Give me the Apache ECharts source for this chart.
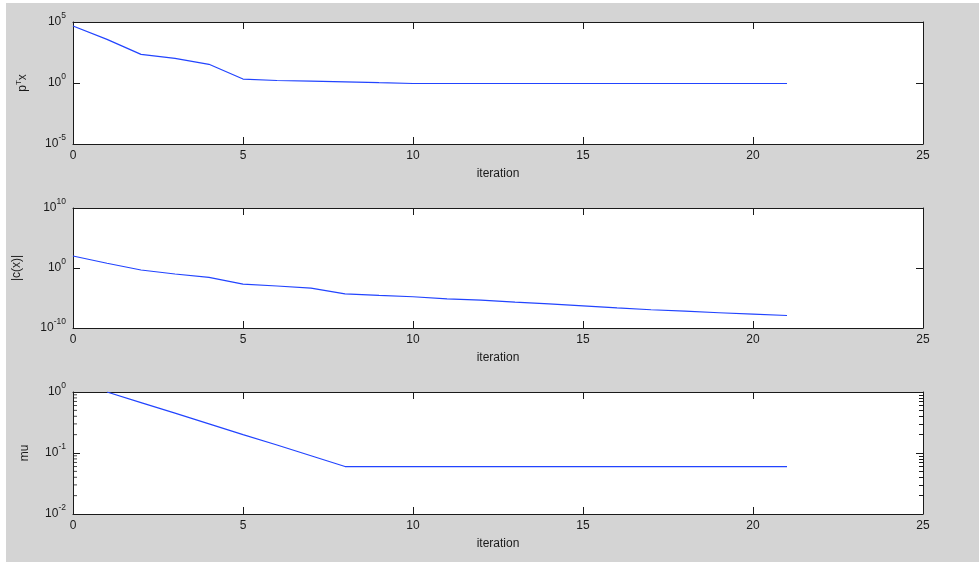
<!DOCTYPE html>
<html>
<head>
<meta charset="utf-8">
<script src="https://cdn.jsdelivr.net/npm/echarts@6/dist/echarts.min.js"></script>
<style>
  html, body { margin: 0; padding: 0; background: #ffffff; }
  #bg { position: absolute; left: 6px; top: 3px; width: 973px; height: 559px; background: #d4d4d4; }
  #main { position: absolute; left: 0; top: 0; width: 979px; height: 562px; }
</style>
</head>
<body>
<div id="bg"></div>
<div id="main"></div>
<script>
// ---- data ----
const iterations = [0, 1, 2, 3, 4, 5, 6, 7, 8, 9, 10, 11, 12, 13, 14, 15, 16, 17, 18, 19, 20, 21];
const pTx = [4.7e4, 3.8e3, 2.2e2, 1.05e2, 34, 2.1, 1.6, 1.45, 1.26, 1.06, 0.91, 0.91, 0.91, 0.91, 0.91, 0.91, 0.91, 0.91, 0.91, 0.91, 0.91, 0.91];
const cNorm = [1e2, 6.2, 0.46, 0.1, 0.028, 2.1e-3, 1e-3, 4.5e-4, 5e-5, 2.7e-5, 1.6e-5, 7.2e-6, 4.4e-6, 2e-6, 1.05e-6, 5e-7, 2.2e-7, 1.1e-7, 6.3e-8, 3.5e-8, 2e-8, 1.2e-8];
const mu = [null, 1.0, 0.67, 0.45, 0.30, 0.20, 0.135, 0.09, 0.06, 0.06, 0.06, 0.06, 0.06, 0.06, 0.06, 0.06, 0.06, 0.06, 0.06, 0.06, 0.06, 0.06];

const xRange = [0, 25];
const xStep = 5;
const yRange1 = [1e-5, 1e5];
const yRange2 = [1e-10, 1e10];
const yRange3 = [1e-2, 1e0];
// minor log ticks of the mu panel (2..9 x each decade)
const muMinorTicks = [0.02, 0.03, 0.04, 0.05, 0.06, 0.07, 0.08, 0.09, 0.2, 0.3, 0.4, 0.5, 0.6, 0.7, 0.8, 0.9];

const yNames = ['{a|p}{t|T}{a|x}', '{a||c(x)|}', '{a|mu}'];
const xName = 'iteration';

// ---- styling ----
const FONT = "'Liberation Sans', Arial, Helvetica, sans-serif";
const INK = '#1a1a1a';
const LINE = '#2244ff';

const grids = [
  { left: 73, right: 56, top: 22, height: 122 },
  { left: 73, right: 56, top: 208, height: 120 },
  { left: 73, right: 56, top: 392, height: 122 }
];
const nameGaps = [42, 50, 42];
const ranges = [yRange1, yRange2, yRange3];
const seriesData = [pTx, cNorm, mu];
const hasMinor = [false, false, true];

const axisLine = { show: true, onZero: false, lineStyle: { color: INK, width: 1 } };

const xAxes = [];
const yAxes = [];
const series = [];

grids.forEach((g, i) => {
  xAxes.push({
    type: 'value', gridIndex: i, position: 'bottom',
    min: xRange[0], max: xRange[1], interval: xStep,
    axisLine: axisLine,
    axisTick: { show: true, inside: true, length: 7, lineStyle: { color: INK } },
    axisLabel: { show: true, margin: 6, color: INK, fontFamily: FONT, fontSize: 12 },
    splitLine: { show: false },
    name: xName, nameLocation: 'middle', nameGap: 24,
    nameTextStyle: { color: INK, fontFamily: FONT, fontSize: 12 }
  });
  xAxes.push({
    type: 'value', gridIndex: i, position: 'top',
    min: xRange[0], max: xRange[1], interval: xStep,
    axisLine: axisLine,
    axisTick: { show: true, inside: true, length: 7, lineStyle: { color: INK } },
    axisLabel: { show: false },
    splitLine: { show: false }
  });
  yAxes.push({
    type: 'log', logBase: 10, gridIndex: i, position: 'left',
    min: ranges[i][0], max: ranges[i][1], splitNumber: 2,
    axisLine: axisLine,
    axisTick: { show: true, inside: true, length: 7, lineStyle: { color: INK } },
    axisLabel: {
      show: true, margin: 7, color: INK,
      formatter: v => '{b|10}{s|' + Math.round(Math.log10(v)) + '}',
      rich: {
        b: { fontFamily: FONT, fontSize: 12, color: INK },
        s: { fontFamily: FONT, fontSize: 8.5, color: INK, padding: [0, 0, 12, 0] }
      }
    },
    splitLine: { show: false },
    name: yNames[i], nameLocation: 'middle', nameGap: nameGaps[i],
    nameTextStyle: {
      rich: {
        a: { fontFamily: FONT, fontSize: 12, color: INK },
        t: { fontFamily: FONT, fontSize: 8, color: INK, padding: [0, 0, 8, 0] }
      }
    }
  });
  yAxes.push({
    type: 'log', logBase: 10, gridIndex: i, position: 'right',
    min: ranges[i][0], max: ranges[i][1], splitNumber: 2,
    axisLine: axisLine,
    axisTick: { show: true, inside: true, length: 7, lineStyle: { color: INK } },
    minorTick: hasMinor[i]
      ? { show: true, splitNumber: 9, length: 4, lineStyle: { color: INK } }
      : { show: false },
    axisLabel: { show: false },
    splitLine: { show: false }
  });
});

seriesData.forEach((arr, i) => {
  series.push({
    type: 'line',
    xAxisIndex: i * 2,
    yAxisIndex: i * 2,
    data: iterations.map((x, k) => [x, arr[k]]),
    showSymbol: false,
    clip: true,
    lineStyle: { color: LINE, width: 1.2 },
    itemStyle: { color: LINE }
  });
});

// left-edge minor ticks of the mu panel, placed by the panel's log scale
series.push({
  type: 'scatter',
  xAxisIndex: 4,
  yAxisIndex: 4,
  data: muMinorTicks.map(v => [xRange[0], v]),
  symbol: 'rect',
  symbolSize: [4, 1],
  symbolOffset: [2, 0],
  clip: false,
  silent: true,
  z: 5,
  itemStyle: { color: INK },
  emphasis: { disabled: true }
});

const chart = echarts.init(document.getElementById('main'));
chart.setOption({
  animation: false,
  backgroundColor: 'transparent',
  grid: grids.map(g => Object.assign({ show: true, backgroundColor: '#ffffff', borderWidth: 0 }, g)),
  xAxis: xAxes,
  yAxis: yAxes,
  series: series
});
</script>
</body>
</html>
